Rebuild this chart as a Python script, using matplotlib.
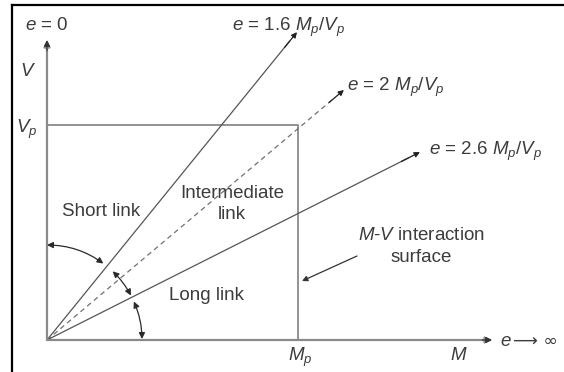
import matplotlib as mpl
import matplotlib.pyplot as plt
import numpy as np
from matplotlib.lines import Line2D

plt.switch_backend('agg')

#%% ====================================
#   Diagram data (units: M / Mp and V / Vp)
#   ====================================
MP = 1.0
VP = 1.0
AXIS_END_M = 1.773      # end of M axis
AXIS_END_V = 1.395      # end of V axis

RAY_LABELS = ['$e$ = 1.6 $M_p/V_p$', '$e$ = 2 $M_p/V_p$', '$e$ = 2.6 $M_p/V_p$']
RAY_TIP_M  = [0.996, 1.183, 1.486]
RAY_TIP_V  = [1.432, 1.163, 0.874]
RAY_STYLE  = ['-', '--', '-']

# angles (deg, drawn on screen) of the double arrows that mark the link ranges
ARC_START = [53.6, 27.9, 0.6]
ARC_END   = [90.0, 46.3, 23.9]
ARC_RADIUS_PX = 95

#%% ====================================
#   Layout: pixel frame of the picture
#   ====================================
W, H = 564, 372
X0, Y0 = 47, 340          # pixel of origin
SX, SY = 251, 215         # pixels per Mp and per Vp

def px(x, y):
    # pixel position -> diagram units
    return ((x - X0) / SX, (Y0 - y) / SY)

plt.rcParams['font.family'] = ['Liberation Sans', 'DejaVu Sans']
plt.rcParams['mathtext.fontset'] = 'custom'
plt.rcParams['mathtext.rm'] = 'Liberation Sans'
plt.rcParams['mathtext.it'] = 'Liberation Sans:italic'
plt.rcParams['mathtext.sf'] = 'Liberation Sans'

fig = plt.figure(figsize=(W / 100, H / 100), dpi=100)
ax = fig.add_axes([0, 0, 1, 1])
ax.set_xlim(px(0, 0)[0], px(W, 0)[0])
ax.set_ylim(px(0, H)[1], px(0, 0)[1])
ax.axis('off')

AXCOL = '#8a8a8a'
LNCOL = '#555555'
TXCOL = '#3c3c3c'
FS = 13.5

# axes with arrows
ax.annotate('', xy=(AXIS_END_M, 0), xytext=(0, 0),
            arrowprops=dict(arrowstyle='-|>', color=AXCOL, lw=1.6,
                            mutation_scale=9, shrinkA=0, shrinkB=0))
ax.annotate('', xy=(0, AXIS_END_V), xytext=(0, 0),
            arrowprops=dict(arrowstyle='-|>', color=AXCOL, lw=1.6,
                            mutation_scale=9, shrinkA=0, shrinkB=0))
# the arrow heads in the picture are dark
ax.annotate('', xy=(AXIS_END_M, 0), xytext=(AXIS_END_M - 0.04, 0),
            arrowprops=dict(arrowstyle='-|>', color='#333333', lw=0.8,
                            mutation_scale=9, shrinkA=0, shrinkB=0))
ax.annotate('', xy=(0, AXIS_END_V), xytext=(0, AXIS_END_V - 0.05),
            arrowprops=dict(arrowstyle='-|>', color='#333333', lw=0.8,
                            mutation_scale=9, shrinkA=0, shrinkB=0))

# interaction surface
ax.plot([0, MP, MP], [VP, VP, 0], color=AXCOL, lw=1.3, solid_capstyle='butt')

# rays
for i in range(len(RAY_LABELS)):
    col = LNCOL if RAY_STYLE[i] == '-' else '#707070'
    ax.plot([0, RAY_TIP_M[i] * 0.97], [0, RAY_TIP_V[i] * 0.97], color=col,
            lw=0.9, linestyle=RAY_STYLE[i], dashes=(4, 3) if RAY_STYLE[i] == '--' else (None, None))
    ax.annotate('', xy=(RAY_TIP_M[i], RAY_TIP_V[i]),
                xytext=(RAY_TIP_M[i] * 0.95, RAY_TIP_V[i] * 0.95),
                arrowprops=dict(arrowstyle='-|>', color='#222222', lw=0.9,
                                mutation_scale=8, shrinkA=0, shrinkB=0))

# double arrows (arcs around the origin)
for a0, a1 in zip(ARC_START, ARC_END):
    t0, t1 = np.radians(a0), np.radians(a1)
    p0 = (ARC_RADIUS_PX * np.cos(t0) / SX, ARC_RADIUS_PX * np.sin(t0) / SY)
    p1 = (ARC_RADIUS_PX * np.cos(t1) / SX, ARC_RADIUS_PX * np.sin(t1) / SY)
    rad = np.tan((t1 - t0) / 4)
    ax.annotate('', xy=p1, xytext=p0,
                arrowprops=dict(arrowstyle='<|-|>', color='#2a2a2a', lw=0.9,
                                mutation_scale=9, shrinkA=0, shrinkB=0,
                                connectionstyle='arc3,rad=%.3f' % rad))

# pointer to the interaction surface
ax.annotate('', xy=px(302, 281), xytext=px(357, 256),
            arrowprops=dict(arrowstyle='-|>', color='#333333', lw=0.9,
                            mutation_scale=8, shrinkA=0, shrinkB=0))

# texts
def txt(x, y, s, ha='left', va='center'):
    ax.text(*px(x, y), s, ha=ha, va=va, fontsize=FS, color=TXCOL)

txt(25, 26, '$e$ = 0')
txt(28, 71, '$V$', ha='center')
txt(37, 129, '$V_p$', ha='right')
txt(232, 27, RAY_LABELS[0])
txt(347, 87, RAY_LABELS[1])
txt(429, 151, RAY_LABELS[2])
txt(101, 211, 'Short link', ha='center')
txt(232, 194, 'Intermediate', ha='center')
txt(232, 215, 'link', ha='center')
txt(206, 296, 'Long link', ha='center')
txt(421, 236, '$M$-$V$ interaction', ha='center')
txt(421, 258, 'surface', ha='center')
txt(300, 357, '$M_p$', ha='center')
txt(459, 356, '$M$', ha='center')
txt(500, 341, '$e$')
ax.text(*px(513, 341), '\u27f6 \u221e', ha='left', va='center', fontsize=FS - 1,
        color=TXCOL, family=['DejaVu Sans'])

# picture frame (top and left edge)
fig.add_artist(Line2D([12 / W, 1], [1 - 4.5 / H, 1 - 4.5 / H], color='black', lw=1.6,
                      transform=fig.transFigure))
fig.add_artist(Line2D([11.5 / W, 11.5 / W], [0, 1 - 4.5 / H], color='black', lw=1.6,
                      transform=fig.transFigure))

plt.savefig('out.png', dpi=100)
plt.close()
